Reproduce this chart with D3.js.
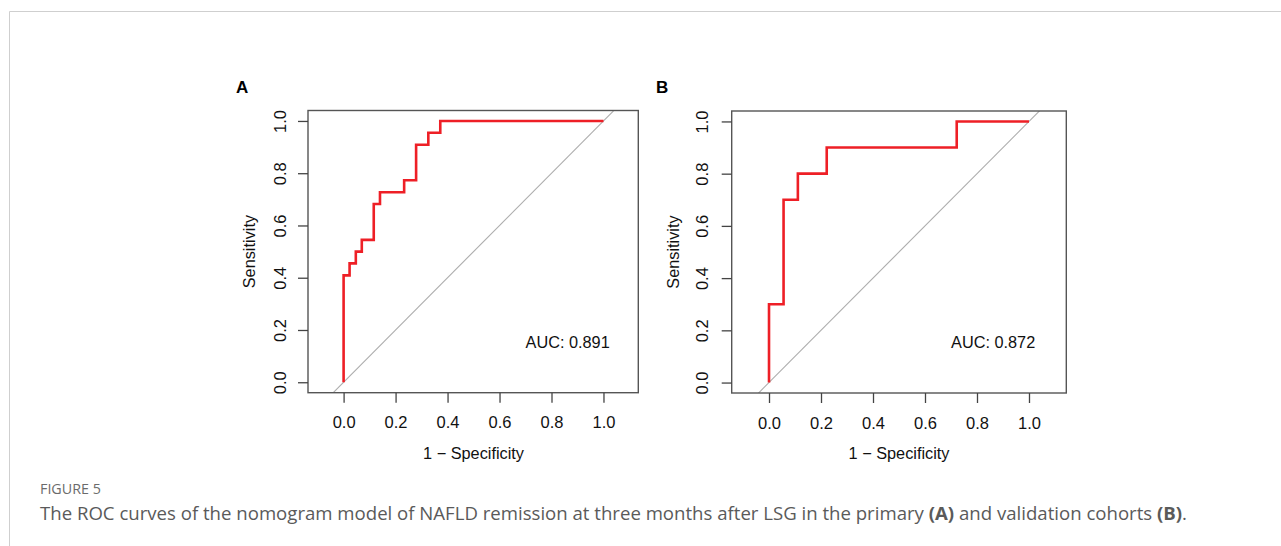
<!DOCTYPE html>
<html>
<head>
<meta charset="utf-8">
<script src="https://cdn.jsdelivr.net/npm/d3@7"></script>
<style>
  html, body { margin: 0; padding: 0; background: #fff; }
  svg { display: block; }
</style>
</head>
<body>
<svg id="chart" width="1281" height="546"></svg>
<script>
// ---- data ----
// Panel A: primary cohort ROC corner points (1 - specificity, sensitivity)
const fprA = [0, 0, 0.023, 0.023, 0.047, 0.047, 0.070, 0.070, 0.116, 0.116, 0.140, 0.140, 0.233, 0.233, 0.279, 0.279, 0.326, 0.326, 0.372, 0.372, 1.0];
const tprA = [0, 0.409, 0.409, 0.455, 0.455, 0.500, 0.500, 0.545, 0.545, 0.682, 0.682, 0.727, 0.727, 0.773, 0.773, 0.909, 0.909, 0.955, 0.955, 1.0, 1.0];
// Panel B: validation cohort
const fprB = [0, 0, 0.056, 0.056, 0.111, 0.111, 0.222, 0.222, 0.722, 0.722, 1.0];
const tprB = [0, 0.3, 0.3, 0.7, 0.7, 0.8, 0.8, 0.9, 0.9, 1.0, 1.0];
const aucLabels = ["AUC: 0.891", "AUC: 0.872"];
const panelLetters = ["A", "B"];
const tickValues = [0, 0.2, 0.4, 0.6, 0.8, 1.0];
const tickLabels = ["0.0", "0.2", "0.4", "0.6", "0.8", "1.0"];
const xTitle = "1 \u2212 Specificity";
const yTitle = "Sensitivity";
const figLabel = "FIGURE 5";

// ---- layout ----
const panels = [
  { fpr: fprA, tpr: tprA, auc: aucLabels[0], letter: panelLetters[0],
    box: [308, 638.3, 110.5, 392.7], xdom: [-0.137, 1.134], ytx: 280, yttl: 254.5, ltx: 236 },
  { fpr: fprB, tpr: tprB, auc: aucLabels[1], letter: panelLetters[1],
    box: [731.7, 1066.3, 111, 393], xdom: [-0.1435, 1.1435], ytx: 702, yttl: 678.5, ltx: 656 }
];

const svg = d3.select("#chart");
const font = "'Liberation Sans', Arial, sans-serif";

// page frame lines
svg.append("line").attr("x1", 9.5).attr("x2", 1281).attr("y1", 11.5).attr("y2", 11.5)
  .attr("stroke", "#cfcfcf").attr("stroke-width", 1);
svg.append("line").attr("x1", 9.5).attr("x2", 9.5).attr("y1", 11.5).attr("y2", 546)
  .attr("stroke", "#cfcfcf").attr("stroke-width", 1);

panels.forEach((p, i) => {
  const [x0, x1, y0, y1] = p.box;
  const x = d3.scaleLinear().domain(p.xdom).range([x0, x1]);
  const y = d3.scaleLinear().domain([-0.04, 1.04]).range([y1, y0]);
  const g = svg.append("g");

  const clipId = "clip" + i;
  svg.append("clipPath").attr("id", clipId).append("rect")
    .attr("x", x0).attr("y", y0).attr("width", x1 - x0).attr("height", y1 - y0);

  // diagonal reference line (y = x), clipped to plot box
  g.append("line").attr("clip-path", `url(#${clipId})`)
    .attr("x1", x(-0.2)).attr("y1", y(-0.2)).attr("x2", x(1.2)).attr("y2", y(1.2))
    .attr("stroke", "#adadad").attr("stroke-width", 1.1);

  // ROC curve
  const pts = p.fpr.map((f, k) => [f, p.tpr[k]]);
  g.append("path").datum(pts)
    .attr("d", d3.line().x(d => x(d[0])).y(d => y(d[1])))
    .attr("fill", "none").attr("stroke", "#ee1f26").attr("stroke-width", 2.6)
    .attr("stroke-linejoin", "miter");

  // box
  g.append("rect").attr("x", x0).attr("y", y0).attr("width", x1 - x0).attr("height", y1 - y0)
    .attr("fill", "none").attr("stroke", "#555").attr("stroke-width", 1.4);

  // x axis
  const xAxis = d3.axisBottom(x).tickValues(tickValues)
    .tickFormat((d, k) => tickLabels[k]).tickSize(10);
  const gx = g.append("g").attr("transform", `translate(0,${y1})`).call(xAxis);
  gx.select(".domain").remove();
  gx.selectAll(".tick line").attr("stroke", "#444").attr("stroke-width", 1.3);
  gx.selectAll(".tick text").attr("font-family", font).attr("font-size", 16.5).attr("fill", "#111")
    .attr("y", 35.5).attr("dy", null);

  // y axis
  const yAxis = d3.axisLeft(y).tickValues(tickValues)
    .tickFormat((d, k) => tickLabels[k]).tickSize(10);
  const gy = g.append("g").attr("transform", `translate(${x0},0)`).call(yAxis);
  gy.select(".domain").remove();
  gy.selectAll(".tick line").attr("stroke", "#444").attr("stroke-width", 1.3);
  gy.selectAll(".tick text").attr("font-family", font).attr("font-size", 16.5).attr("fill", "#111")
    .attr("x", null).attr("dy", null).attr("text-anchor", "middle")
    .attr("transform", `translate(${p.ytx - x0},0) rotate(-90)`)
    .attr("dominant-baseline", "central");

  // axis titles
  g.append("text").attr("x", (x(0) + x(1)) / 2).attr("y", 459)
    .attr("text-anchor", "middle").attr("font-family", font).attr("font-size", 16.3).attr("fill", "#111")
    .text(xTitle);
  g.append("text")
    .attr("transform", `translate(${p.yttl},${(y(0) + y(1)) / 2}) rotate(-90)`)
    .attr("text-anchor", "middle").attr("font-family", font).attr("font-size", 16.3).attr("fill", "#111")
    .text(yTitle);

  // AUC text
  g.append("text").attr("x", x(1.024)).attr("y", y(0.155))
    .attr("text-anchor", "end").attr("font-family", font).attr("font-size", 16.3).attr("fill", "#111")
    .attr("dominant-baseline", "central")
    .text(p.auc);

  // panel letter
  g.append("text").attr("x", p.ltx).attr("y", 93)
    .attr("font-family", font).attr("font-size", 17).attr("font-weight", "bold").attr("fill", "#000")
    .text(p.letter);
});

// caption
const capFont = "'Open Sans', 'Noto Sans', sans-serif";
svg.append("text").attr("x", 40).attr("y", 494)
  .attr("font-family", capFont).attr("font-size", 14.3).attr("fill", "#6b6b6b")
  .text(figLabel);
const cap = svg.append("text").attr("x", 40).attr("y", 519.5)
  .attr("font-family", capFont).attr("font-size", 18.6).attr("fill", "#5a5a5a");
const capParts = [
  ["The ROC curves of the nomogram model of NAFLD remission at three months after LSG in the primary ", false],
  ["(A)", true],
  [" and validation cohorts ", false],
  ["(B)", true],
  [".", false]
];
capParts.forEach(([t, b]) => {
  cap.append("tspan").attr("font-weight", b ? "bold" : null).text(t);
});
</script>
</body>
</html>
